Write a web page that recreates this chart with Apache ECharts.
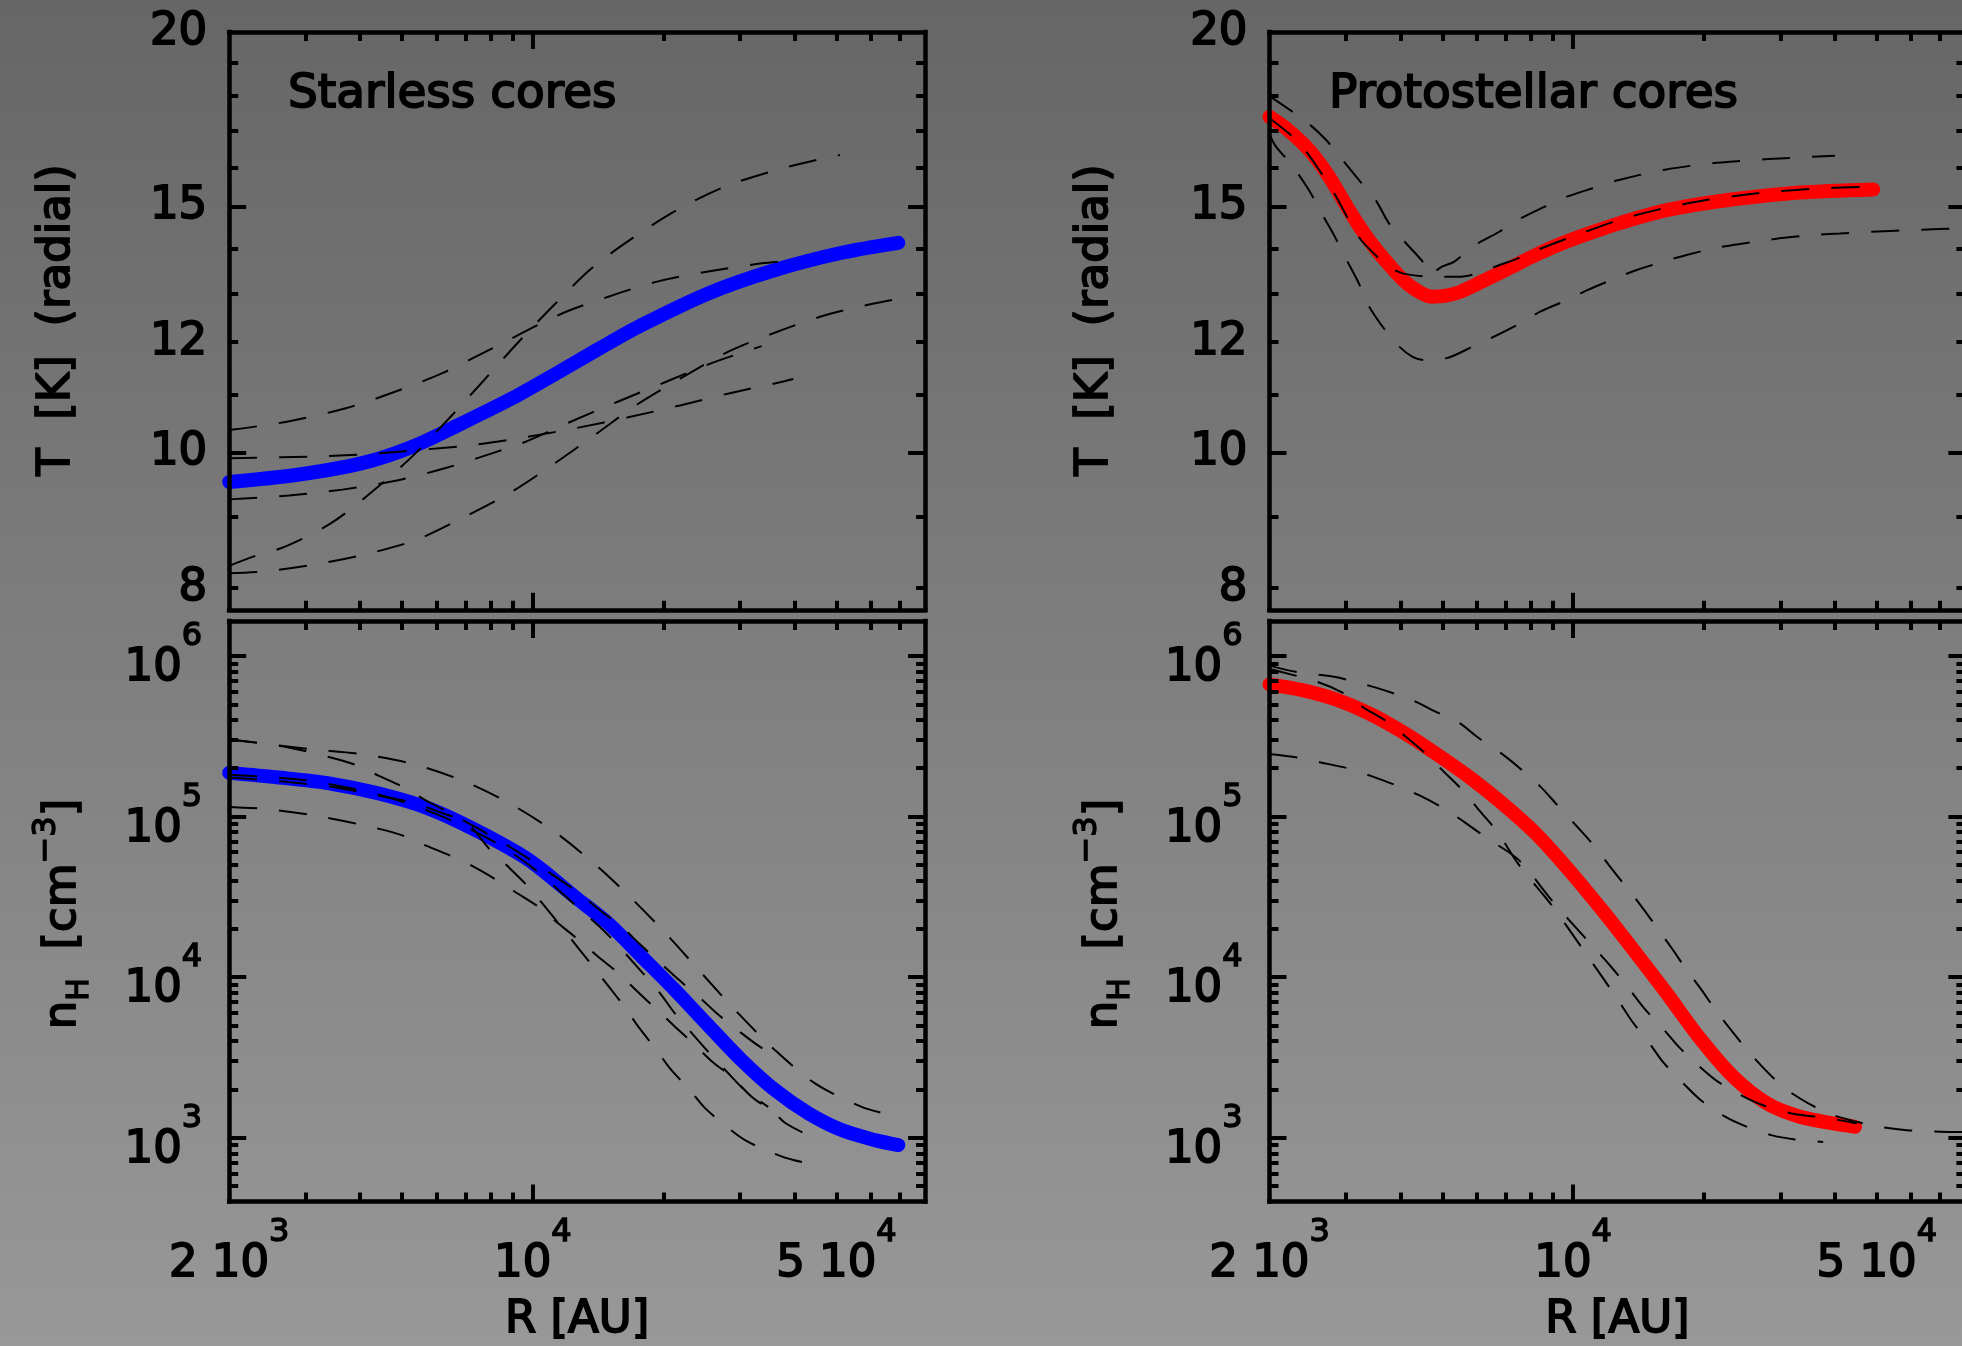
<!DOCTYPE html>
<html>
<head>
<meta charset="utf-8">
<script src="https://cdn.jsdelivr.net/npm/echarts@6/dist/echarts.min.js"></script>
<style>
html,body{margin:0;padding:0;background:linear-gradient(#666666,#989898);}
#chart{width:1962px;height:1346px;}
</style>
</head>
<body>
<div id="chart"></div>
<script>
// ---------------- data (R in AU) ----------------
const R_MIN = 2000, R_MAX = 80000;
const T_MIN = 7.72, T_MAX = 20;
const N_MIN = 400, N_MAX = 1.65e6;

const R_LABELS = [2000, 10000, 50000];
const R_MAJOR = [10000];
const R_MINOR = [3000,4000,5000,6000,7000,8000,9000,20000,30000,40000,50000,60000,70000];
const T_LABELS = [8, 10, 12, 15, 20];
const T_MAJOR = [10, 15];
const T_MINOR = [8, 9, 11, 12, 13, 14, 16, 17, 18, 19];
const N_LABELS = [1e3, 1e4, 1e5, 1e6];
const N_MAJOR = [1e3, 1e4, 1e5, 1e6];
const N_MINOR = [500,600,700,800,900,2000,3000,4000,5000,6000,7000,8000,9000,
  20000,30000,40000,50000,60000,70000,80000,90000,2e5,3e5,4e5,5e5,6e5,7e5,8e5,9e5];

// Starless cores: temperature
const starlessT_mean = [[2000,9.53],[2845,9.64],[4049,9.83],[5280,10.10],[6882,10.50],[8971,10.94],[11690,11.46],[14280,11.88],[17810,12.34],[25340,13.00],[36100,13.51],[51400,13.90],[69400,14.13]];
const starlessT_1 = [[2000,10.38],[2698,10.52],[3708,10.76],[4834,11.06],[6188,11.40],[8000,11.86],[11490,12.55],[14920,12.93],[19440,13.26],[25340,13.48],[33640,13.66],[38740,13.72]];
const starlessT_2 = [[2000,8.30],[2281,8.43],[2698,8.57],[3425,8.90],[4271,9.38],[5280,9.94],[6412,10.58],[7722,11.27],[9293,12.01],[11290,12.79],[13660,13.55],[17030,14.25],[21620,14.93],[27690,15.50],[36100,15.92],[47040,16.25],[50950,16.33]];
const starlessT_3 = [[2000,9.91],[3218,9.94],[4235,9.98],[5567,10.05],[7321,10.13],[9625,10.26],[12500,10.41],[16580,10.60],[21820,10.81],[28430,11.03],[37070,11.23],[39780,11.29]];
const starlessT_4 = [[2000,9.26],[2746,9.32],[3643,9.41],[4834,9.55],[6302,9.75],[8213,10.01],[9459,10.16],[12110,10.51],[15730,10.88],[20150,11.23],[25810,11.59],[33640,11.92]];
const starlessT_5 = [[2000,8.20],[2384,8.22],[3163,8.32],[4124,8.46],[5374,8.66],[6882,8.98],[8814,9.35],[11090,9.80],[14030,10.32],[17490,10.84],[22200,11.33],[28180,11.81],[36420,12.20],[47040,12.54],[61340,12.79],[70650,12.90]];

// Protostellar cores: temperature
const protoT_mean = [[2000,17.39],[2180,17.07],[2466,16.47],[2742,15.76],[3049,14.91],[3389,14.19],[3767,13.63],[4190,13.18],[4741,12.93],[5366,13.00],[6179,13.26],[7117,13.55],[8200,13.85],[9441,14.12],[10880,14.35],[12750,14.59],[16420,14.91],[23380,15.18],[33280,15.35],[49090,15.43]];
const protoT_1 = [[2000,17.35],[2339,16.66],[2790,15.41],[3214,14.26],[3637,13.70],[3840,13.53],[4124,13.42],[4800,13.36],[5450,13.36],[6100,13.45],[6637,13.59],[7638,13.81],[8492,14.01],[9796,14.25],[12750,14.67],[15350,14.90],[20220,15.16],[26580,15.33],[34910,15.44],[47800,15.50]];
const protoT_2 = [[2000,17.99],[2424,17.26],[2694,16.75],[2943,16.20],[3214,15.67],[3512,15.16],[3767,14.59],[4124,14.12],[4537,13.66],[4664,13.42],[5005,13.59],[5327,13.70],[5869,14.04],[6762,14.39],[7452,14.67],[8584,14.99],[9541,15.22],[11090,15.46],[12750,15.67],[16270,15.94],[21410,16.12],[28180,16.22],[40060,16.31]];
const protoT_3 = [[2000,16.90],[2066,16.57],[2255,16.05],[2466,15.41],[2624,14.87],[2815,14.31],[2994,13.78],[3214,13.21],[3358,12.79],[3669,12.27],[3980,11.91],[4271,11.71],[4537,11.65],[5140,11.69],[5869,11.91],[6585,12.11],[7573,12.38],[8420,12.62],[9696,12.86],[10780,13.07],[12530,13.33],[14010,13.51],[16130,13.70],[18250,13.85],[21210,14.01],[23800,14.09],[27690,14.19],[31330,14.26],[36690,14.32],[41160,14.35],[48240,14.39],[63450,14.44],[78580,14.47]];

// Starless cores: density n_H
const starlessN_mean = [[2000,1.87e5],[2605,1.75e5],[3394,1.61e5],[4424,1.39e5],[5768,1.12e5],[7516,8.03e4],[9799,5.35e4],[12500,3.16e4],[14920,2.16e4],[17810,1.34e4],[21250,8300],[25340,5010],[30250,3040],[36100,1980],[43070,1420],[51400,1115],[61340,966],[69400,900]];
const starlessN_1 = [[2000,3.02e5],[3053,2.63e5],[4014,2.45e5],[5234,2.14e5],[6823,1.69e5],[8780,1.22e5],[11090,8.22e4],[13780,5.15e4],[16880,3.09e4],[20500,1.80e4],[24680,1.03e4],[29720,5940],[36100,3510],[44630,2180],[57150,1556],[65270,1403]];
const starlessN_2 = [[2000,3.02e5],[2651,2.74e5],[3425,2.33e5],[3976,2.06e5],[4424,1.79e5],[5097,1.50e5],[5668,1.26e5],[6473,1.045e5],[9000,6.3e4],[12500,3.48e4],[14280,2.61e4],[16160,2.01e4],[17650,1.60e4],[19730,1.216e4],[21620,9680],[24260,7430],[26630,5890],[29980,4560],[33170,3715],[36880,3160]];
const starlessN_3 = [[2000,1.75e5],[2698,1.644e5],[3546,1.51e5],[4664,1.31e5],[5374,1.208e5],[6081,1.069e5],[7064,9.06e4],[7926,6.32e4],[8734,4.93e4],[9681,3.74e4],[10520,2.88e4],[11490,2.14e4],[12660,1.545e4],[13780,1.159e4],[14870,8910],[16300,6470],[17490,4910],[19280,3510],[20690,2700],[23010,1977],[24820,1545],[27960,1169],[30800,966],[35140,817],[39780,726],[45800,675]];
const starlessN_4 = [[2000,1.148e5],[2491,1.107e5],[3275,9.95e4],[4287,8.55e4],[4989,7.66e4],[5567,6.73e4],[6412,5.75e4],[7194,4.98e4],[8213,4.06e4],[9093,3.40e4],[10340,2.72e4],[11490,2.14e4],[12500,1.78e4],[14100,1.35e4],[15820,1.045e4],[17340,8220],[19330,6240],[21250,4910],[23600,3780],[25890,2970],[28700,2390],[31900,1800],[36100,1416],[38050,1239],[41950,1072]];
const starlessN_5 = [[2000,1.82e5],[3000,1.68e5],[4500,1.35e5],[6000,1.035e5],[8000,7.16e4],[10000,4.79e4],[12500,2.82e4],[14790,1.87e4],[17810,1.079e4],[19640,7925],[21170,6000],[23330,4416],[25340,3428],[29050,2307],[30770,1977],[34820,1556]];

// Protostellar cores: density n_H
const protoN_mean = [[2000,6.65e5],[2380,6.12e5],[2841,5.36e5],[3389,4.39e5],[4043,3.37e5],[4826,2.47e5],[5759,1.766e5],[6869,1.208e5],[8200,7.85e4],[9787,4.63e4],[11670,2.61e4],[13760,1.48e4],[16420,7925],[19590,4150],[23380,2393],[27910,1637],[33280,1349],[39720,1227],[44560,1169]];
const protoN_1 = [[2000,8.7e5],[2297,7.96e5],[2815,7.41e5],[3244,6.75e5],[3669,6.12e5],[4264,5.31e5],[4741,4.60e5],[5463,3.83e5],[6017,3.13e5],[6811,2.49e5],[7503,2.02e5],[8420,1.53e5],[9119,1.208e5],[10140,8.83e4],[10980,6.95e4],[12090,4.98e4],[13050,3.83e4],[14390,2.74e4],[15440,2.11e4],[16950,1.486e4],[18090,1.148e4],[19770,8300],[21330,6170],[23380,4500],[25300,3460],[27980,2570],[30740,2028],[34790,1637],[39720,1384],[44960,1256],[50860,1169],[58620,1114],[69940,1089],[78600,1084]];
const protoN_2 = [[2000,8.3e5],[2576,6.90e5],[2968,5.85e5],[3271,4.82e5],[3733,3.89e5],[4124,3.13e5],[4616,2.41e5],[5044,1.897e5],[5607,1.426e5],[6071,1.096e5],[6690,8.04e4],[7503,5.0e4],[8955,2.77e4],[10690,1.406e4],[11730,9820],[12770,7015],[13640,5346],[15030,3828],[16130,2944],[17940,2178],[19590,1730],[22280,1361],[24910,1180],[28580,1038],[32420,975],[37650,940]];
const protoN_3 = [[2000,2.45e5],[2317,2.33e5],[2624,2.17e5],[3021,2.00e5],[3420,1.79e5],[3936,1.552e5],[4418,1.358e5],[5044,1.122e5],[5607,9.27e4],[6346,7.31e4],[7503,5.35e4],[8955,2.98e4],[10690,1.74e4],[12270,1.148e4],[13520,8300],[14580,6380],[16210,4680],[17560,3650],[19590,2760],[21580,2228],[24570,1816],[27690,1574],[31870,1416],[39020,1318],[44960,1227]];

// ---------------- styling ----------------
const FONT = 'DejaVu Sans';
const TXT_B = 1.8;              // text outline to mimic the heavy vector font
const AX_W = 4.5, TK_W = 4, MAJ_LEN = 17, MIN_LEN = 9;
const DASH = [28, 22];

const GRIDS = [
  {left: 229.2, top: 31.9, width: 695.9, height: 577.9},   // starless T
  {left: 229.2, top: 621,  width: 695.9, height: 580.6},   // starless n
  {left: 1269.5, top: 31.9, width: 695.9, height: 577.9},  // protostellar T
  {left: 1269.5, top: 621,  width: 695.9, height: 580.6}   // protostellar n
];

const RICH = {
  b: {fontFamily: FONT, fontSize: 45, color: '#000', lineHeight: 70, verticalAlign: 'bottom',
      textBorderColor: '#000', textBorderWidth: TXT_B},
  s: {fontFamily: FONT, fontSize: 32, color: '#000', lineHeight: 32, verticalAlign: 'top',
      textBorderColor: '#000', textBorderWidth: TXT_B * 0.8}
};
function sciLabel(v) {
  const e = Math.floor(Math.log10(v) + 1e-9);
  const m = Math.round(v / Math.pow(10, e));
  return (m === 1 ? '' : '{b|' + m + ' }') + '{b|10}{s|' + e + '}';
}

function baseAxis(extra) {
  return Object.assign({
    type: 'log', logBase: 10, splitLine: {show: false}, minorTick: {show: false},
    minorSplitLine: {show: false}, axisPointer: {show: false}, silent: true, z: 5
  }, extra);
}
function tick(values, len) {
  return {show: true, inside: true, length: len, customValues: values,
          lineStyle: {color: '#000', width: TK_W}};
}
const LINE = {show: true, onZero: false, lineStyle: {color: '#000', width: AX_W, cap: 'square'}};
const NOLINE = {show: false};
const NOLABEL = {show: false};

const xAxis = [], yAxis = [];
GRIDS.forEach((g, gi) => {
  const isN = gi % 2 === 1;
  const xr = {gridIndex: gi, min: R_MIN, max: R_MAX};
  xAxis.push(baseAxis(Object.assign({}, xr, {
    position: 'bottom', axisLine: LINE, axisTick: tick(R_MAJOR, MAJ_LEN),
    axisLabel: isN ? {show: true, customValues: R_LABELS, margin: 15, formatter: sciLabel, rich: RICH} : NOLABEL,
    name: isN ? 'R [AU]' : '', nameLocation: 'middle', nameGap: 96,
    nameTextStyle: {fontFamily: FONT, fontSize: 45, color: '#000', textBorderColor: '#000', textBorderWidth: TXT_B}
  })));
  xAxis.push(baseAxis(Object.assign({}, xr, {position: 'bottom', axisLine: NOLINE, axisTick: tick(R_MINOR, MIN_LEN), axisLabel: NOLABEL})));
  xAxis.push(baseAxis(Object.assign({}, xr, {position: 'top', axisLine: LINE, axisTick: tick(R_MAJOR, MAJ_LEN), axisLabel: NOLABEL})));
  xAxis.push(baseAxis(Object.assign({}, xr, {position: 'top', axisLine: NOLINE, axisTick: tick(R_MINOR, MIN_LEN), axisLabel: NOLABEL})));

  const yr = isN ? {gridIndex: gi, min: N_MIN, max: N_MAX} : {gridIndex: gi, min: T_MIN, max: T_MAX};
  const major = isN ? N_MAJOR : T_MAJOR;
  const minor = isN ? N_MINOR : T_MINOR;
  const label = isN
    ? {show: true, customValues: N_LABELS, margin: 27, formatter: sciLabel, rich: RICH}
    : {show: true, customValues: T_LABELS, margin: 22, fontFamily: FONT, fontSize: 45, color: '#000',
       textBorderColor: '#000', textBorderWidth: TXT_B, formatter: v => String(Math.round(v))};
  yAxis.push(baseAxis(Object.assign({}, yr, {position: 'left', axisLine: LINE, axisTick: tick(major, MAJ_LEN), axisLabel: label})));
  yAxis.push(baseAxis(Object.assign({}, yr, {position: 'left', axisLine: NOLINE, axisTick: tick(minor, MIN_LEN), axisLabel: NOLABEL})));
  yAxis.push(baseAxis(Object.assign({}, yr, {position: 'right', axisLine: LINE, axisTick: tick(major, MAJ_LEN), axisLabel: NOLABEL})));
  yAxis.push(baseAxis(Object.assign({}, yr, {position: 'right', axisLine: NOLINE, axisTick: tick(minor, MIN_LEN), axisLabel: NOLABEL})));
});

function thick(data, gi, color, name) {
  return {type: 'line', name, data, xAxisIndex: gi * 4, yAxisIndex: gi * 4, smooth: 0.3,
    showSymbol: false, symbol: 'none', z: 2, silent: true,
    lineStyle: {color, width: 14, cap: 'round', join: 'round'}};
}
function dashed(data, gi, name) {
  return {type: 'line', name, data, xAxisIndex: gi * 4, yAxisIndex: gi * 4, smooth: 0.3,
    showSymbol: false, symbol: 'none', z: 3, silent: true,
    lineStyle: {color: '#000', width: 2, type: DASH}};
}

const series = [
  thick(starlessT_mean, 0, '#0000ff', 'Starless T mean'),
  dashed(starlessT_1, 0, 'Starless T 1'), dashed(starlessT_2, 0, 'Starless T 2'),
  dashed(starlessT_3, 0, 'Starless T 3'), dashed(starlessT_4, 0, 'Starless T 4'),
  dashed(starlessT_5, 0, 'Starless T 5'),
  thick(starlessN_mean, 1, '#0000ff', 'Starless n mean'),
  dashed(starlessN_1, 1, 'Starless n 1'), dashed(starlessN_2, 1, 'Starless n 2'),
  dashed(starlessN_3, 1, 'Starless n 3'), dashed(starlessN_4, 1, 'Starless n 4'),
  dashed(starlessN_5, 1, 'Starless n 5'),
  thick(protoT_mean, 2, '#ff0000', 'Protostellar T mean'),
  dashed(protoT_1, 2, 'Protostellar T 1'), dashed(protoT_2, 2, 'Protostellar T 2'),
  dashed(protoT_3, 2, 'Protostellar T 3'),
  thick(protoN_mean, 3, '#ff0000', 'Protostellar n mean'),
  dashed(protoN_1, 3, 'Protostellar n 1'), dashed(protoN_2, 3, 'Protostellar n 2'),
  dashed(protoN_3, 3, 'Protostellar n 3')
];

const TITLE_RICH = {
  b:   {fontFamily: FONT, fontSize: 45, fill: '#000', lineHeight: 64, verticalAlign: 'middle',
        stroke: '#000', lineWidth: TXT_B},
  sub: {fontFamily: FONT, fontSize: 30, fill: '#000', lineHeight: 44, verticalAlign: 'bottom',
        stroke: '#000', lineWidth: TXT_B * 0.8},
  sup: {fontFamily: FONT, fontSize: 32, fill: '#000', lineHeight: 32, verticalAlign: 'top',
        stroke: '#000', lineWidth: TXT_B * 0.8}
};
function vText(x, y, text, rich) {
  return {type: 'text', x, y, rotation: Math.PI / 2, z: 20, silent: true,
    style: {text, rich, fontFamily: FONT, fontSize: 45, fill: '#000', stroke: '#000', lineWidth: TXT_B,
            align: 'center', verticalAlign: 'middle'}};
}
function hText(x, y, text) {
  return {type: 'text', x, y, z: 20, silent: true,
    style: {text, fontFamily: FONT, fontSize: 47, fill: '#000', stroke: '#000', lineWidth: TXT_B,
            align: 'left', verticalAlign: 'middle'}};
}
const T_TITLE = 'T  [K]  (radial)';
const NH_TITLE = '{b|n}{sub|H}{b|  [cm}{sup|\u22123}{b|]}';

const option = {
  animation: false,
  backgroundColor: {type: 'linear', x: 0, y: 0, x2: 0, y2: 1,
    colorStops: [{offset: 0, color: '#666666'}, {offset: 1, color: '#989898'}]},
  grid: GRIDS.map(g => Object.assign({containLabel: false, outerBoundsMode: 'none', show: false}, g)),
  xAxis, yAxis, series,
  graphic: [
    vText(57, 320, T_TITLE),
    vText(1095, 320, T_TITLE),
    vText(63, 914, NH_TITLE, TITLE_RICH),
    vText(1104, 914, NH_TITLE, TITLE_RICH),
    hText(288, 95, 'Starless cores'),
    hText(1329, 95, 'Protostellar cores')
  ]
};

const chart = echarts.init(document.getElementById('chart'), null, {renderer: 'canvas', width: 1962, height: 1346});
chart.setOption(option);
</script>
</body>
</html>
